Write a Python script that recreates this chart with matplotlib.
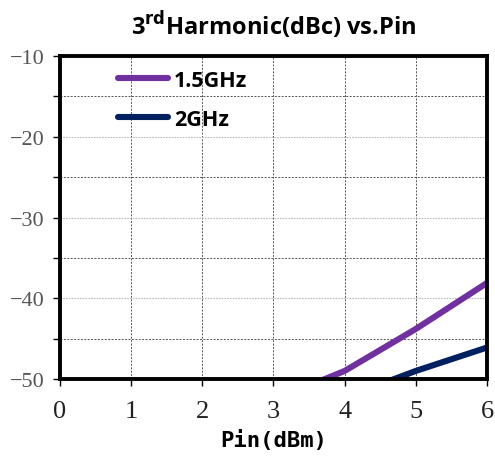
import matplotlib

matplotlib.use("Agg")

import matplotlib.pyplot as plt
from matplotlib.ticker import MultipleLocator

# third-harmonic level vs. input power
PIN_DBM = [3, 4, 5, 6]
H3_15GHZ = [-52.6, -49.0, -43.8, -38.1]
H3_2GHZ = [-55.5, -52.3, -49.0, -46.1]

SERIES = [
    ("1.5GHz", H3_15GHZ, "#7030A0"),
    ("2GHz", H3_2GHZ, "#002060"),
]

X_TICKS = [0, 1, 2, 3, 4, 5, 6]
Y_TICKS = [-50, -40, -30, -20, -10]


def main():
    fig = plt.figure(figsize=(4.95, 4.60), dpi=100)
    ax = fig.add_axes([0.1212, 0.1739, 0.8626, 0.7021])

    for label, values, color in SERIES:
        ax.plot(PIN_DBM, values, color=color, linewidth=4.4,
                solid_capstyle="round", label=label)

    ax.set_xlim(0, 6)
    ax.set_ylim(-50, -10)
    ax.set_xticks(X_TICKS)
    ax.set_yticks(Y_TICKS)
    ax.yaxis.set_minor_locator(MultipleLocator(5))

    ax.grid(True, axis="x", which="major", color="#555555",
            linestyle=(0, (2, 1.5)), linewidth=0.7)
    ax.grid(True, axis="y", which="major", color="#bbbbbb",
            linestyle=(0, (1.5, 1)), linewidth=0.8)
    ax.grid(True, axis="y", which="minor", color="#555555",
            linestyle=(0, (2, 1.5)), linewidth=0.7)

    for spine in ax.spines.values():
        spine.set_linewidth(2.8)
        spine.set_color("black")

    ax.tick_params(axis="x", which="major", direction="out", length=5,
                   width=1, pad=10, labelsize=19, labelcolor="#222222")
    ax.tick_params(axis="y", which="both", direction="out", length=5,
                   width=1, pad=6, labelsize=16, labelcolor="#555555")
    for lbl in ax.get_xticklabels() + ax.get_yticklabels():
        lbl.set_family("Liberation Serif")

    ax.set_xlabel("Pin(dBm)", fontsize=16, fontweight="bold",
                  family="DejaVu Sans Mono", labelpad=5)
    ax.set_title(r"3$^{\mathbf{rd}}$Harmonic(dBc) vs.Pin", fontsize=17,
                 fontweight="bold", family="Open Sans", pad=16)

    ax.legend(loc="upper left", bbox_to_anchor=(0.09, 1.018), frameon=False,
              handlelength=2.35, handletextpad=0.25, labelspacing=0.85,
              prop={"family": "Open Sans", "weight": "bold", "size": 15.5})

    fig.savefig("out.png", dpi=100)
    plt.close(fig)


if __name__ == "__main__":
    main()
